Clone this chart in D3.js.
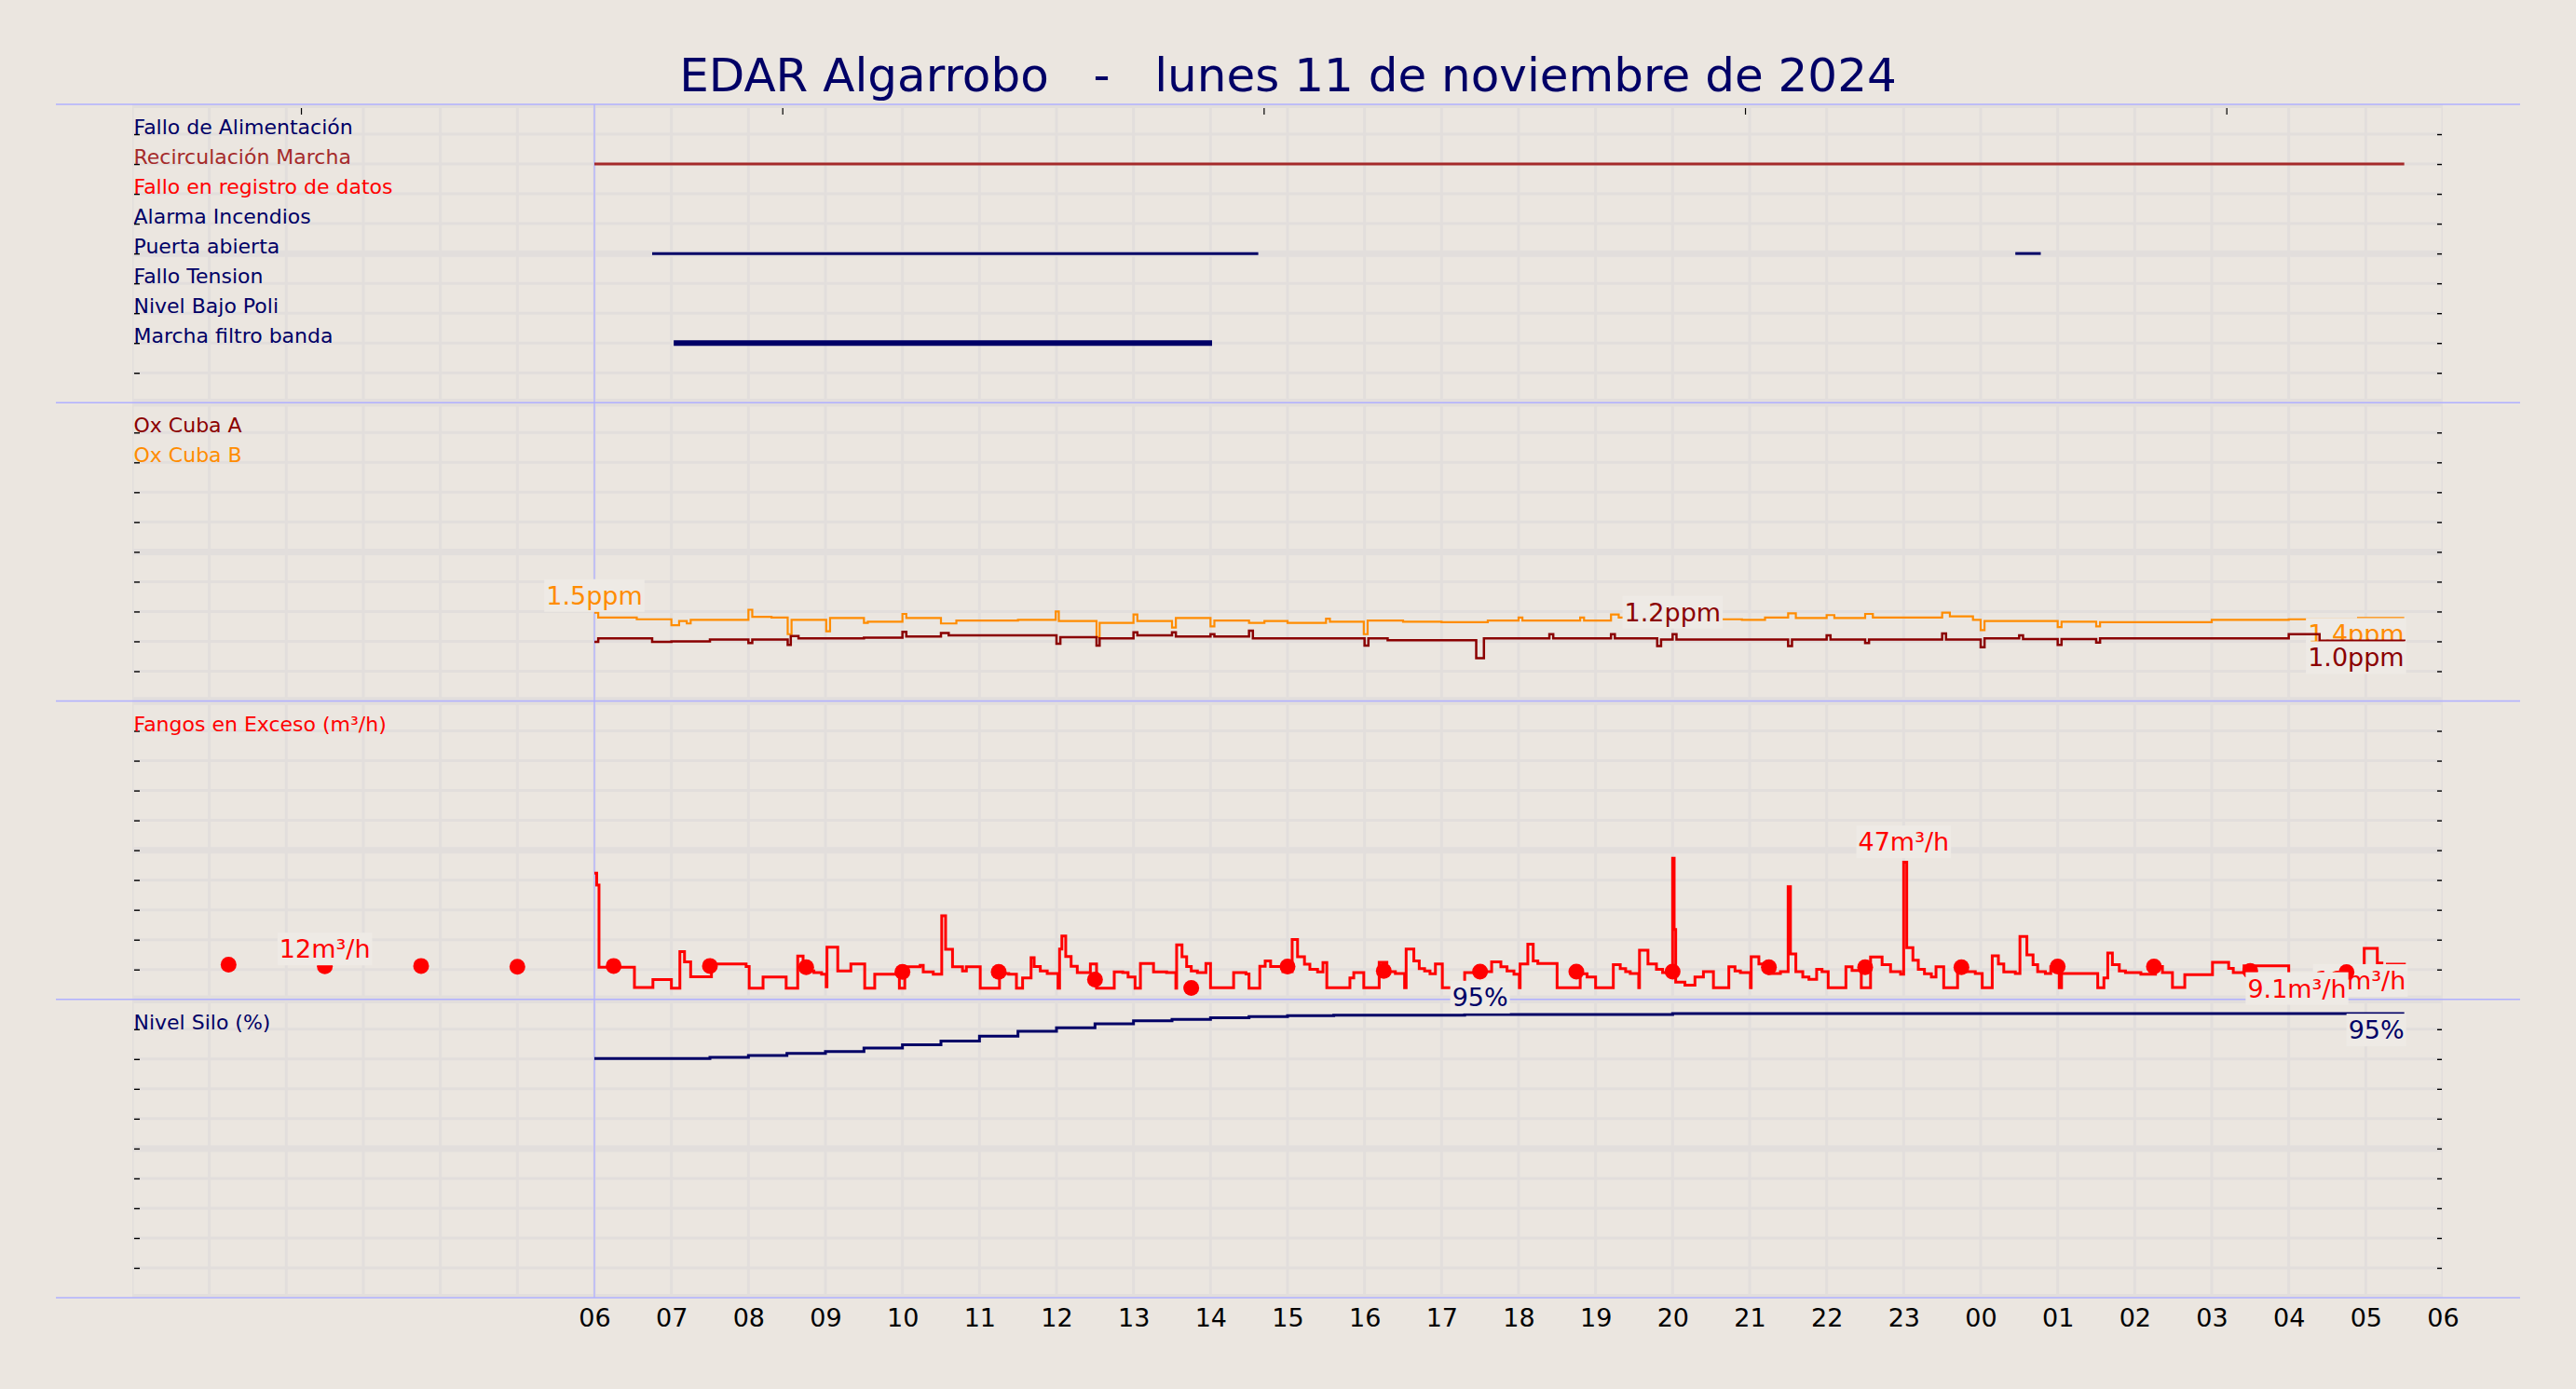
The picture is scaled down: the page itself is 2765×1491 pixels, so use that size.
<!DOCTYPE html>
<html><head><meta charset="utf-8">
<script src="https://cdn.jsdelivr.net/npm/d3@7"></script>
<style>
html,body{margin:0;padding:0;background:#ebe6e0;}
svg{display:block;font-family:"DejaVu Sans",sans-serif;}
</style></head><body>
<svg id="chart" width="2765" height="1491"></svg>
<script>
// ---------------- DATA ----------------
const titleText = "EDAR Algarrobo   -   lunes 11 de noviembre de 2024";
const xTickHours = d3.range(6, 31);
const xTickLabels = ["06","07","08","09","10","11","12","13","14","15","16","17","18","19","20","21","22","23","00","01","02","03","04","05","06"];
const topTickHours = [2.19, 8.44, 14.69, 20.94, 27.19];

const statusNames = ["Fallo de Alimentación","Recirculación Marcha","Fallo en registro de datos","Alarma Incendios","Puerta abierta","Fallo Tension","Nivel Bajo Poli","Marcha filtro banda"];
const statusIntervals = [
  [],
  [[6.0, 29.5]],
  [],
  [],
  [[6.75, 14.62], [24.45, 24.78]],
  [],
  [],
  [[7.03, 14.02]]
];

const oxNames = ["Ox Cuba A", "Ox Cuba B"];
const oxCubaB = [[6.00,1.48],[6.05,1.40],[6.55,1.37],[7.0,1.27],[7.1,1.34],[7.2,1.30],[7.25,1.36],[8.0,1.53],[8.05,1.41],[8.3,1.40],[8.51,1.12],[8.56,1.36],[9.01,1.17],[9.06,1.39],[9.5,1.31],[9.55,1.33],[10.0,1.46],[10.05,1.39],[10.5,1.30],[10.7,1.35],[11.5,1.36],[11.99,1.50],[12.03,1.34],[12.52,1.07],[12.56,1.31],[13.0,1.45],[13.05,1.34],[13.5,1.23],[13.55,1.39],[14.0,1.25],[14.05,1.35],[14.5,1.31],[14.7,1.34],[15.0,1.31],[15.5,1.38],[15.55,1.33],[15.99,1.12],[16.04,1.35],[16.5,1.33],[17.0,1.32],[17.6,1.35],[18.0,1.40],[18.05,1.35],[18.8,1.40],[18.85,1.35],[19.2,1.45],[19.3,1.40],[19.6,1.37],[20.9,1.36],[21.2,1.40],[21.5,1.47],[21.6,1.39],[22.0,1.44],[22.1,1.39],[22.5,1.46],[22.6,1.40],[23.5,1.48],[23.6,1.42],[23.9,1.36],[24.0,1.19],[24.05,1.34],[25.0,1.24],[25.05,1.33],[25.5,1.25],[25.55,1.32],[27.0,1.36],[28.0,1.37],[28.9,1.39],[29.5,1.39]];
const oxCubaA = [[6.0,0.99],[6.05,1.05],[6.75,0.99],[7.0,1.00],[7.5,1.03],[8.0,0.97],[8.05,1.03],[8.51,0.94],[8.55,1.09],[8.65,1.05],[9.5,1.06],[10.0,1.16],[10.05,1.08],[10.5,1.14],[10.6,1.10],[12.0,0.96],[12.05,1.07],[12.52,0.93],[12.56,1.05],[13.0,1.15],[13.05,1.10],[13.5,1.15],[13.55,1.08],[14.0,1.12],[14.05,1.08],[14.5,1.18],[14.55,1.05],[16.0,0.93],[16.05,1.05],[16.3,1.02],[17.45,0.72],[17.55,1.05],[18.4,1.12],[18.45,1.05],[19.2,1.12],[19.25,1.05],[19.8,0.92],[19.85,1.03],[20.0,1.12],[20.05,1.03],[21.5,0.92],[21.55,1.03],[22.0,1.10],[22.05,1.03],[22.5,0.97],[22.55,1.03],[23.5,1.13],[23.55,1.03],[24.0,0.90],[24.05,1.05],[24.5,1.10],[24.55,1.04],[25.0,0.94],[25.05,1.04],[25.5,0.98],[25.55,1.05],[28.0,1.12],[28.4,1.01],[29.5,1.0]];
const oxLabelsB = [["1.5ppm", 6.0, 1.48, "above"], ["1.4ppm", 29.5, 1.39, "below"]];
const oxLabelsA = [["1.2ppm", 20.0, 1.2, "above"], ["1.0ppm", 29.5, 1.0, "below"]];

const fangosName = "Fangos en Exceso (m³/h)";
const fangosLine = [[6.0,42.3],[6.03,38.3],[6.06,10.8],[6.52,4.0],[6.76,6.6],[7.0,3.75],[7.11,16.0],[7.17,12.6],[7.25,7.6],[7.52,11.9],[7.97,11.0],[8.01,3.75],[8.19,7.5],[8.49,3.75],[8.64,14.5],[8.71,9.5],[8.85,9.0],[8.95,8.4],[9.01,4.2],[9.02,17.5],[9.16,9.5],[9.33,11.9],[9.51,3.75],[9.64,8.4],[9.96,3.75],[10.03,10.9],[10.23,11.4],[10.27,9.2],[10.40,8.4],[10.51,28.0],[10.56,16.8],[10.65,10.9],[10.78,9.5],[10.83,10.9],[11.01,3.75],[11.26,8.7],[11.38,8.4],[11.48,3.75],[11.56,7.2],[11.67,14.0],[11.71,11.0],[11.79,9.5],[11.88,8.7],[12.02,3.75],[12.04,16.9],[12.07,21.2],[12.12,14.4],[12.19,11.1],[12.27,9.0],[12.44,11.9],[12.52,3.75],[12.75,9.2],[12.86,9.0],[12.93,7.5],[13.02,3.75],[13.09,12.0],[13.26,9.2],[13.43,9.0],[13.55,3.75],[13.56,18.3],[13.63,14.3],[13.69,11.0],[13.75,9.5],[13.83,9.0],[13.94,12.0],[14.0,3.9],[14.30,9.0],[14.46,8.5],[14.50,3.75],[14.64,11.1],[14.71,12.9],[14.78,11.0],[14.94,9.3],[15.06,20.1],[15.13,14.3],[15.22,11.8],[15.29,10.1],[15.39,9.2],[15.46,12.3],[15.51,3.9],[15.81,7.2],[15.86,9.0],[15.99,3.9],[16.19,12.4],[16.29,9.3],[16.40,8.7],[16.52,3.9],[16.54,16.9],[16.64,12.9],[16.71,10.3],[16.78,9.5],[16.85,8.6],[16.92,11.9],[17.01,3.9],[17.30,9.0],[17.48,9.3],[17.65,12.6],[17.77,10.9],[17.85,9.5],[17.94,8.4],[18.01,3.9],[18.02,11.9],[18.12,18.5],[18.19,12.9],[18.25,12.0],[18.50,3.9],[18.80,8.6],[18.89,7.5],[19.0,3.9],[19.23,11.6],[19.32,10.3],[19.39,9.3],[19.45,8.7],[19.56,3.9],[19.57,16.5],[19.68,11.9],[19.79,10.1],[19.87,9.0],[20.0,47.3],[20.02,23.4],[20.04,5.8],[20.16,4.8],[20.29,7.5],[20.40,9.3],[20.53,3.9],[20.73,10.9],[20.81,9.5],[20.88,9.0],[21.01,3.9],[21.02,14.3],[21.12,11.9],[21.19,10.6],[21.25,8.7],[21.40,9.3],[21.50,37.8],[21.53,15.2],[21.60,9.3],[21.69,7.5],[21.77,6.7],[21.87,10.1],[21.94,9.3],[22.02,3.9],[22.25,10.9],[22.33,9.7],[22.45,3.9],[22.57,14.2],[22.72,11.6],[22.83,9.3],[22.96,8.4],[23.0,46.0],[23.04,17.3],[23.12,13.1],[23.19,10.1],[23.27,8.6],[23.36,7.5],[23.42,10.9],[23.52,3.9],[23.70,10.6],[23.77,9.3],[23.93,8.7],[24.02,3.9],[24.15,14.6],[24.23,11.9],[24.30,9.2],[24.45,8.7],[24.51,21.1],[24.60,14.9],[24.68,11.6],[24.74,9.3],[24.84,8.7],[24.91,10.9],[25.02,3.9],[25.05,8.7],[25.52,3.9],[25.60,7.2],[25.65,15.5],[25.71,11.6],[25.80,9.5],[25.88,9.0],[26.08,8.4],[26.27,11.0],[26.36,9.0],[26.49,4.0],[26.65,8.3],[27.01,12.4],[27.22,10.4],[27.28,9.0],[27.42,11.25],[28.0,7.9],[28.40,8.4],[28.45,7.9],[28.73,9.2],[28.98,17.1],[29.15,12.2],[29.21,10.8],[29.28,11.8],[29.52,11.8]];
const fangosDotHours = [1.25,2.5,3.75,5.0,6.25,7.5,8.75,10.0,11.25,12.5,13.75,15.0,16.25,17.5,18.75,20.0,21.25,22.5,23.75,25.0,26.25,27.5,28.75];
const fangosDotValues = [11.6,11.1,11.2,10.9,11.2,11.2,10.8,9.2,9.2,6.6,3.8,11.0,9.5,9.3,9.3,9.3,10.8,10.8,10.8,11.0,11.0,9.5,9.1];
const fangosLineLabels = [["47m³/h", 23.0, 47, "above"], ["12m³/h", 29.52, 11.8, "below"]];
const fangosDotLabels = [["12m³/h", 2.5, 11.1, "above"], ["9.1m³/h", 28.75, 9.1, "below"]];

const siloName = "Nivel Silo (%)";
const siloLine = [[6.0,80.2],[7.5,80.6],[8.0,81.2],[8.5,81.9],[9.0,82.5],[9.5,83.7],[10.0,84.8],[10.5,86.0],[11.0,87.7],[11.5,89.3],[12.0,90.5],[12.5,91.8],[13.0,92.8],[13.5,93.3],[14.0,93.8],[14.5,94.2],[15.0,94.5],[15.6,94.7],[17.3,94.9],[20.0,95.2],[29.5,95.2]];
const siloLabels = [["95%", 17.5, 95.0, "above"], ["95%", 29.5, 95.2, "below"]];

// ---------------- STYLE / LAYOUT ----------------
const NAVY = "#000066", DARKRED = "#8b0000", ORANGE = "#ff8c00", BROWN = "#a52a2a", RED = "#ff0000";
const statusColors = [NAVY, BROWN, RED, NAVY, NAVY, NAVY, NAVY, NAVY];
const statusWidths = [3, 3, 3, 3, 3, 3, 3, 6];
const BG = "#ebe6e0", GRID = "#e2dedc", SEP = "#b0b0ff", BOX = "#eeeae5";
const L = 142, R = 2622, TOP = 112, BOT = 1393;
const PH = (BOT - TOP) / 4;
const panelTop = i => TOP + i * PH;

const svg = d3.select("#chart");
svg.append("rect").attr("width", 2765).attr("height", 1491).attr("fill", BG);

const x = d3.scaleLinear().domain([0, 30]).range([L, R]);
const yStatus = d3.scaleLinear().domain([0, 10]).range([panelTop(0), panelTop(1)]);
const yOx = d3.scaleLinear().domain([0, 5]).range([panelTop(2), panelTop(1)]);
const yFan = d3.scaleLinear().domain([0, 100]).range([panelTop(3), panelTop(2)]);
const ySilo = d3.scaleLinear().domain([0, 100]).range([BOT, panelTop(3)]);
const panelScales = [yStatus, d3.scaleLinear().domain([0,10]).range([panelTop(2), panelTop(1)]),
  d3.scaleLinear().domain([0,10]).range([panelTop(3), panelTop(2)]), d3.scaleLinear().domain([0,10]).range([BOT, panelTop(3)])];

// clip for grid
svg.append("clipPath").attr("id", "gclip").append("rect").attr("x", L).attr("y", TOP).attr("width", R - L).attr("height", BOT - TOP);
const grid = svg.append("g").attr("clip-path", "url(#gclip)");
grid.selectAll("line.v").data(d3.range(0, 31)).join("line")
  .attr("x1", d => x(d)).attr("x2", d => x(d)).attr("y1", TOP).attr("y2", BOT)
  .attr("stroke", GRID).attr("stroke-width", 3);
panelScales.forEach((s, i) => {
  grid.selectAll("line.h" + i).data(d3.range(0, 11)).join("line")
    .attr("x1", L).attr("x2", R).attr("y1", d => s(d)).attr("y2", d => s(d))
    .attr("stroke", GRID).attr("stroke-width", d => (d === 0 || d === 10) ? 8 : (d === 5 ? 7 : 3));
});

// y tick dashes (left & right)
panelScales.forEach((s, i) => {
  const vals = d3.range(1, 10);
  const gl = svg.append("g").attr("transform", `translate(${L + 2},0)`)
    .call(d3.axisRight(s).tickValues(vals).tickSize(6).tickFormat(""));
  gl.select(".domain").remove();
  gl.selectAll("line").attr("stroke", "#000").attr("stroke-width", 1.4);
  const gr = svg.append("g").attr("transform", `translate(${R - 1},0)`)
    .call(d3.axisLeft(s).tickValues(vals).tickSize(5).tickFormat(""));
  gr.select(".domain").remove();
  gr.selectAll("line").attr("stroke", "#000").attr("stroke-width", 1.4);
});

// top ticks
const gt = svg.append("g").attr("transform", `translate(0,${TOP + 4})`)
  .call(d3.axisBottom(x).tickValues(topTickHours).tickSize(7).tickFormat(""));
gt.select(".domain").remove();
gt.selectAll("line").attr("stroke", "#000").attr("stroke-width", 1.2);

// separators
svg.selectAll("line.sep").data(d3.range(0, 5)).join("line")
  .attr("x1", 60).attr("x2", 2705).attr("y1", d => TOP + d * PH).attr("y2", d => TOP + d * PH)
  .attr("stroke", SEP).attr("stroke-width", 1.6);
svg.append("line").attr("x1", x(6)).attr("x2", x(6)).attr("y1", TOP).attr("y2", BOT)
  .attr("stroke", SEP).attr("stroke-width", 1.3);

// x axis labels
const gx = svg.append("g").attr("transform", `translate(0,${BOT})`)
  .call(d3.axisBottom(x).tickValues(xTickHours).tickSize(0).tickPadding(12).tickFormat((d, i) => xTickLabels[i]));
gx.select(".domain").remove();
gx.selectAll("text").attr("font-size", 27).attr("font-family", "DejaVu Sans").attr("fill", "#000");

// title
svg.append("text").attr("x", 2765 / 2).attr("y", 98).attr("text-anchor", "middle")
  .attr("font-size", 50).attr("fill", NAVY).style("white-space", "pre").text(titleText);

function valueLabel(g, t, px, py, color, mode) {
  const lg = g.append("g");
  const txt = lg.append("text").attr("font-size", 27).attr("fill", color).text(t);
  if (mode === "above") txt.attr("x", px).attr("y", py - 9).attr("text-anchor", "middle");
  else txt.attr("x", px).attr("y", py + 27).attr("text-anchor", "end");
  const bb = txt.node().getBBox();
  lg.insert("rect", "text").attr("x", bb.x - 2).attr("y", bb.y - 2).attr("width", bb.width + 4).attr("height", bb.height + 4).attr("fill", BOX);
}

// ---- Panel 1: status ----
const p1 = svg.append("g");
statusNames.forEach((n, i) => {
  p1.append("text").attr("x", L + 1.5).attr("y", yStatus(i + 1)).attr("font-size", 22).attr("fill", statusColors[i]).text(n);
  p1.selectAll(null).data(statusIntervals[i]).join("line")
    .attr("x1", d => x(d[0])).attr("x2", d => x(d[1])).attr("y1", yStatus(i + 1)).attr("y2", yStatus(i + 1))
    .attr("stroke", statusColors[i]).attr("stroke-width", statusWidths[i]);
});

// ---- Panel 2: Ox ----
const p2 = svg.append("g");
[[oxNames[0], DARKRED], [oxNames[1], ORANGE]].forEach(([n, c], i) => {
  p2.append("text").attr("x", L + 1.5).attr("y", panelScales[1](9 - i)).attr("font-size", 22).attr("fill", c).text(n);
});
const stepLine = (ys) => d3.line().x(d => x(d[0])).y(d => ys(d[1])).curve(d3.curveStepAfter);
p2.append("path").datum(oxCubaB).attr("d", stepLine(yOx)).attr("fill", "none").attr("stroke", ORANGE).attr("stroke-width", 2.2);
oxLabelsB.forEach(l => valueLabel(p2, l[0], x(l[1]), yOx(l[2]), ORANGE, l[3]));
p2.append("path").datum(oxCubaA).attr("d", stepLine(yOx)).attr("fill", "none").attr("stroke", DARKRED).attr("stroke-width", 2.5);
oxLabelsA.forEach(l => valueLabel(p2, l[0], x(l[1]), yOx(l[2]), DARKRED, l[3]));

// ---- Panel 3: Fangos ----
const p3 = svg.append("g");
p3.append("text").attr("x", L + 1.5).attr("y", panelScales[2](9)).attr("font-size", 22).attr("fill", RED).text(fangosName);
p3.append("path").datum(fangosLine).attr("d", stepLine(yFan)).attr("fill", "none").attr("stroke", RED).attr("stroke-width", 3);
fangosLineLabels.forEach(l => valueLabel(p3, l[0], x(l[1]), yFan(l[2]), RED, l[3]));
p3.selectAll("circle").data(fangosDotHours).join("circle")
  .attr("cx", d => x(d)).attr("cy", (d, i) => yFan(fangosDotValues[i])).attr("r", 8.5).attr("fill", RED);
fangosDotLabels.forEach(l => valueLabel(p3, l[0], x(l[1]), yFan(l[2]), RED, l[3]));

// ---- Panel 4: Silo ----
const p4 = svg.append("g");
p4.append("text").attr("x", L + 1.5).attr("y", panelScales[3](9)).attr("font-size", 22).attr("fill", NAVY).text(siloName);
p4.append("path").datum(siloLine).attr("d", stepLine(ySilo)).attr("fill", "none").attr("stroke", NAVY).attr("stroke-width", 3);
siloLabels.forEach(l => valueLabel(p4, l[0], x(l[1]), ySilo(l[2]), NAVY, l[3]));
</script></body></html>
